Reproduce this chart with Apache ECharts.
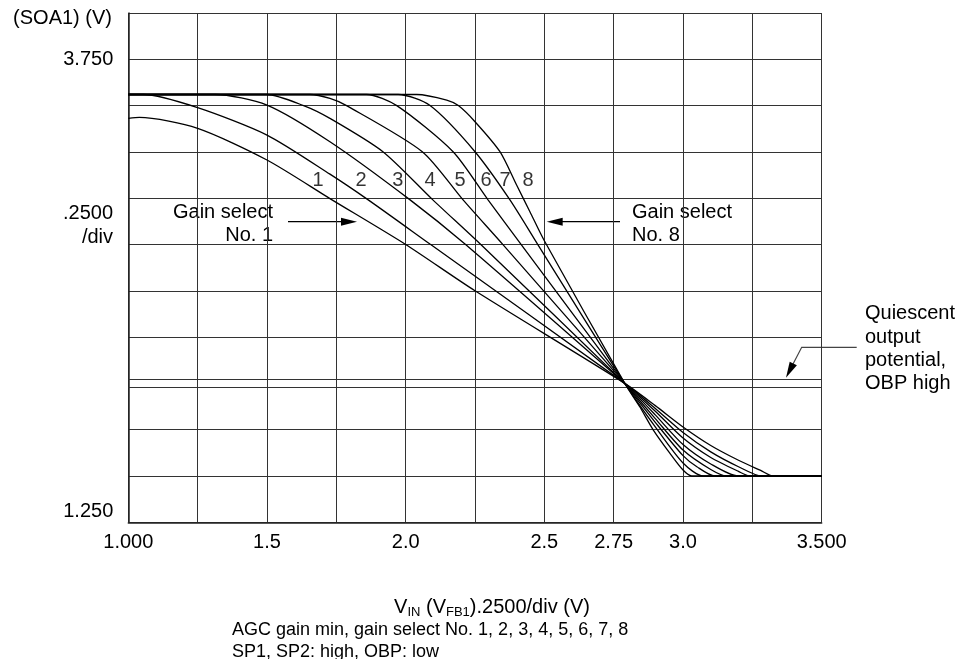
<!DOCTYPE html>
<html><head><meta charset="utf-8">
<script src="https://cdn.jsdelivr.net/npm/echarts@6/dist/echarts.min.js"></script>
<style>html,body{margin:0;padding:0;background:#fff}#c{width:968px;height:659px}</style>
</head><body><div id="c"></div>
<script>
// ---- axis ticks / labels ----
const xLabelVals = [1.0, 1.5, 2.0, 2.5, 2.75, 3.0, 3.5];
const xLabelText = ['1.000', '1.5', '2.0', '2.5', '2.75', '3.0', '3.500'];
const yLabelVals = [1.25, 3.75];
const yLabelText = ['1.250', '3.750'];
const yGridVals = [1.25, 1.5, 1.75, 2.25, 2.5, 2.75, 3.0, 3.25, 3.5, 3.75, 4.0];
const quiescent = [1.975, 2.025];
const curveNames = ['1', '2', '3', '4', '5', '6', '7', '8'];

// ---- series values (x = VIN, y = SOA1) ----
const c1 = [[1.0,3.431],[1.04,3.436],[1.25,3.377],[1.5,3.206],[1.73,2.995],[2.0,2.75],[2.25,2.50],[2.79,2.0],[2.9,1.88],[3.0,1.765],[3.1,1.665],[3.2,1.585],[3.28,1.53],[3.325,1.5],[3.5,1.5]];
const c2 = [[1.0,3.56],[1.054,3.56],[1.25,3.489],[1.5,3.341],[1.727,3.13],[1.865,2.991],[2.089,2.751],[2.79,2.0],[2.9,1.865],[3.0,1.735],[3.1,1.63],[3.2,1.55],[3.283,1.5],[3.5,1.5]];
const c3 = [[1.0,3.56],[1.3125,3.56],[1.5,3.503],[1.727,3.305],[2.016,2.991],[2.215,2.751],[2.79,2.0],[2.9,1.85],[3.0,1.705],[3.1,1.60],[3.2,1.525],[3.241,1.5],[3.5,1.5]];
const c4 = [[1.0,3.56],[1.499,3.56],[1.632,3.5],[1.727,3.431],[1.918,3.251],[2.098,2.991],[2.27,2.751],[2.79,2.0],[2.9,1.83],[3.0,1.67],[3.1,1.565],[3.199,1.5],[3.5,1.5]];
const c5 = [[1.0,3.56],[1.655,3.56],[1.727,3.539],[1.787,3.5],[2.06,3.251],[2.207,2.991],[2.35,2.751],[2.79,2.0],[2.9,1.81],[3.0,1.64],[3.1,1.535],[3.157,1.5],[3.5,1.5]];
const c6 = [[1.0,3.56],[1.859,3.56],[1.968,3.5],[2.171,3.251],[2.297,2.991],[2.416,2.751],[2.79,2.0],[2.9,1.79],[3.0,1.61],[3.05,1.55],[3.115,1.5],[3.5,1.5]];
const c7 = [[1.0,3.56],[1.973,3.56],[2.088,3.5],[2.25,3.251],[2.376,2.991],[2.476,2.751],[2.79,2.0],[2.9,1.765],[3.0,1.57],[3.073,1.5],[3.5,1.5]];
const c8 = [[1.0,3.56],[2.04,3.56],[2.148,3.53],[2.19,3.5],[2.25,3.413],[2.34,3.251],[2.40,3.071],[2.448,2.927],[2.50,2.77],[2.79,2.0],[2.844,1.874],[2.893,1.748],[2.953,1.622],[3.0,1.532],[3.031,1.5],[3.5,1.5]];
const curves = [c1, c2, c3, c4, c5, c6, c7, c8];

const FONT = 'Liberation Sans, Arial, sans-serif';
const FS = 20;
const FSB = 18;
const chart = echarts.init(document.getElementById('c'), null, {renderer: 'canvas'});

const lineSeries = curves.map((d, i) => ({
  type: 'line', name: 'No. ' + curveNames[i], data: d,
  smooth: 0.25, symbol: 'none', silent: true,
  lineStyle: {color: '#000', width: 1.3}, z: 5
}));

// label anchor positions (annotation layout)
const labelAnchors = [[1.684],[1.839],[1.972],[2.088],[2.196],[2.29],[2.358],[2.441]];
lineSeries.push({
  type: 'scatter', symbolSize: 0, silent: true, z: 6,
  data: labelAnchors.map((a, i) => ({value: [a[0], 3.098], name: curveNames[i]})),
  label: {show: true, position: 'inside', formatter: p => p.name, color: '#000', fontSize: FS, fontFamily: FONT}
});
// quiescent output potential lines
lineSeries.push({
  type: 'line', data: [], silent: true,
  markLine: {silent: true, symbol: 'none', label: {show: false},
    lineStyle: {color: '#333', width: 1, type: 'solid'},
    data: quiescent.map(v => ({yAxis: v}))}
});

const txt = (x, y, t, align, fs) => ({type: 'text', x, y, silent: true,
  style: {text: t, fill: '#000', font: (fs || FS) + 'px ' + FONT, textAlign: align || 'left', textVerticalAlign: 'middle'}});
const arrowHead = (pts) => ({type: 'polygon', silent: true, shape: {points: pts}, style: {fill: '#000'}});
const seg = (pts, c) => ({type: 'polyline', silent: true, shape: {points: pts}, style: {stroke: c || '#000', lineWidth: 1.2, fill: null}});

chart.setOption({
  animation: false,
  backgroundColor: '#fff',
  grid: {left: 128.3, top: 13, right: 146.3, bottom: 136.7, containLabel: false},
  xAxis: {
    type: 'value', min: 1.0, max: 3.5, interval: 0.25,
    axisLine: {show: true, onZero: false, lineStyle: {color: '#222', width: 1.5}},
    axisTick: {show: false},
    splitLine: {show: true, lineStyle: {color: '#333', width: 1}},
    axisLabel: {customValues: xLabelVals, margin: 10, color: '#000', fontSize: FS, fontFamily: FONT,
      formatter: v => { const i = xLabelVals.findIndex(t => Math.abs(t - v) < 1e-6); return i >= 0 ? xLabelText[i] : ''; }}
  },
  yAxis: {
    type: 'value', min: 1.25, max: 4.0, interval: 0.25,
    axisLine: {show: true, onZero: false, lineStyle: {color: '#222', width: 1.5}},
    axisTick: {show: false, customValues: yGridVals},
    splitLine: {show: true, lineStyle: {color: '#333', width: 1}},
    axisLabel: {customValues: yLabelVals, margin: 15, color: '#000', fontSize: FS, fontFamily: FONT,
      formatter: v => { const i = yLabelVals.findIndex(t => Math.abs(t - v) < 1e-6); if (i < 0) return ''; return i === 0 ? '{lo|' + yLabelText[i] + '}' : yLabelText[i]; },
      rich: {lo: {fontSize: FS, fontFamily: FONT, color: '#000', padding: [0, 0, 22, 0]}}}
  },
  series: lineSeries,
  graphic: [
    txt(112, 18, '(SOA1) (V)', 'right'),
    txt(113, 213, '.2500', 'right'),
    txt(113, 237, '/div', 'right'),
    txt(273, 212, 'Gain select', 'right'),
    txt(273, 235, 'No. 1', 'right'),
    txt(632, 212, 'Gain select'),
    txt(632, 235, 'No. 8'),
    txt(865, 313, 'Quiescent'),
    txt(865, 337, 'output'),
    txt(865, 360, 'potential,'),
    txt(865, 383, 'OBP high'),
    {type: 'text', x: 492, y: 607, silent: true,
      style: {text: 'V{s|IN} (V{s|FB1}).2500/div (V)', fill: '#000', font: '20px ' + FONT, textAlign: 'center', textVerticalAlign: 'middle',
        rich: {s: {fontSize: 13, fontFamily: FONT, fill: '#000', padding: [10, 0, 0, 0]}}}},
    txt(232, 630, 'AGC gain min, gain select No. 1, 2, 3, 4, 5, 6, 7, 8', 'left', FSB),
    txt(232, 652, 'SP1, SP2: high, OBP: low', 'left', FSB),
    seg([[288, 221.7], [342, 221.7]]),
    arrowHead([[357, 221.7], [341, 217.7], [341, 225.7]]),
    seg([[620, 221.7], [562, 221.7]]),
    arrowHead([[546.7, 221.7], [562.7, 217.7], [562.7, 225.7]]),
    seg([[856.7, 347.3], [801.7, 347.3], [792, 366]], '#444'),
    arrowHead([[786, 377.7], [796.9, 365.3], [789.7, 361.7]])
  ]
});
</script></body></html>
